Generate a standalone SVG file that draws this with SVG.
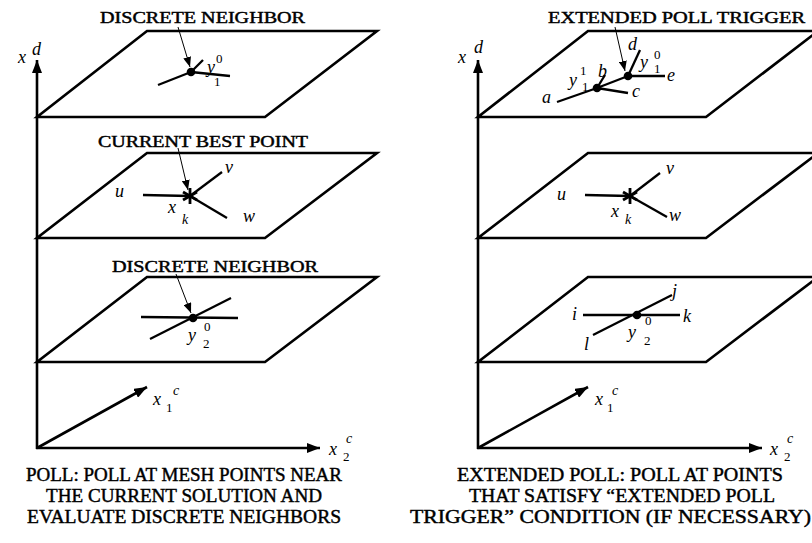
<svg xmlns="http://www.w3.org/2000/svg" width="812" height="543" viewBox="0 0 812 543">
<style>
.pl{fill:none;stroke:#000;stroke-width:2.6;stroke-linejoin:miter}
.ax{stroke:#000;stroke-width:2.6;fill:none}
.nb{stroke:#000;stroke-width:2.3;fill:none}
.pt{stroke:#000;stroke-width:1;fill:none}
.lbl{font-family:"Liberation Serif","Times New Roman",serif;font-size:16px;fill:#000;stroke:#000;stroke-width:0.45}
.cap{font-family:"Liberation Serif","Times New Roman",serif;font-size:19.5px;fill:#000;stroke:#000;stroke-width:0.45}
.m{font-family:"Liberation Serif","Times New Roman",serif;font-style:italic;font-size:18px;fill:#000}
.s{font-family:"Liberation Serif","Times New Roman",serif;font-size:13px;fill:#000}
.si{font-family:"Liberation Serif","Times New Roman",serif;font-style:italic;font-size:14px;fill:#000}
</style>
<defs>
<marker id="axh" markerWidth="13" markerHeight="10" refX="13" refY="5" orient="auto" markerUnits="userSpaceOnUse"><path d="M0,0 L13,5 L0,10 z" fill="#000"/></marker>
<marker id="ph" markerWidth="10" markerHeight="8" refX="10" refY="4" orient="auto" markerUnits="userSpaceOnUse"><path d="M0,0 L10,4 L0,8 z" fill="#000"/></marker>
</defs>
<rect width="812" height="543" fill="#fff"/>

<!-- LEFT PANEL -->
<g id="left-axes">
<line class="ax" x1="37" y1="449" x2="37" y2="60" marker-end="url(#axh)"/>
<line class="ax" x1="36" y1="448" x2="320" y2="448" marker-end="url(#axh)"/>
<line class="ax" x1="37" y1="448" x2="147" y2="387" marker-end="url(#axh)"/>
<text class="m" x="18" y="63">x</text><text class="m" x="32" y="55">d</text>
<text class="m" x="153" y="405">x</text><text class="s" x="166" y="412">1</text><text class="si" x="173" y="395">c</text>
<text class="m" x="329" y="455">x</text><text class="s" x="343" y="461">2</text><text class="si" x="346" y="443">c</text>
</g>

<g id="left-top-plane">
<polygon class="pl" points="37,117 265,117 377,31 147,31"/>
<line class="nb" x1="191" y1="72" x2="158" y2="85"/>
<line class="nb" x1="191" y1="72" x2="230" y2="76"/>
<line class="nb" x1="191" y1="72" x2="203" y2="60"/>
<circle cx="191" cy="72" r="4.3" fill="#000"/>
<text class="m" x="207" y="73">y</text><text class="s" x="214" y="86">1</text><text class="s" x="216" y="63">0</text>
<text class="lbl" x="100" y="23" textLength="205" lengthAdjust="spacingAndGlyphs">DISCRETE NEIGHBOR</text>
</g>

<g id="left-middle-plane">
<polygon class="pl" points="37,238 265,238 377,153 147,153"/>
<line class="nb" x1="143" y1="195" x2="190" y2="196"/>
<line class="nb" x1="190" y1="196" x2="222" y2="172"/>
<line class="nb" x1="190" y1="196" x2="227" y2="218"/>
<g stroke="#000" stroke-width="2.8">
<line x1="190" y1="188" x2="190" y2="204"/>
<line x1="183" y1="192" x2="197" y2="200"/>
<line x1="183" y1="200" x2="197" y2="192"/>
</g>
<text class="m" x="115" y="197">u</text>
<text class="m" x="225" y="173">v</text>
<text class="m" x="243" y="222">w</text>
<text class="m" x="168" y="213">x</text><text class="si" x="182" y="224">k</text>
<text class="lbl" x="98" y="147" textLength="210" lengthAdjust="spacingAndGlyphs">CURRENT BEST POINT</text>
</g>

<g id="left-bottom-plane">
<polygon class="pl" points="37,362 265,362 377,277 147,277"/>
<line class="nb" x1="141" y1="317" x2="238" y2="318"/>
<line class="nb" x1="150" y1="339" x2="231" y2="298"/>
<circle cx="193" cy="318" r="4.3" fill="#000"/>
<text class="m" x="188" y="341">y</text><text class="s" x="203" y="348">2</text><text class="s" x="204" y="331">0</text>
<text class="lbl" x="112" y="272" textLength="206" lengthAdjust="spacingAndGlyphs">DISCRETE NEIGHBOR</text>
</g>

<!-- RIGHT PANEL -->
<g id="right-axes">
<line class="ax" x1="478" y1="449" x2="478" y2="60" marker-end="url(#axh)"/>
<line class="ax" x1="477" y1="448" x2="762" y2="448" marker-end="url(#axh)"/>
<line class="ax" x1="478" y1="448" x2="588" y2="387" marker-end="url(#axh)"/>
<text class="m" x="458" y="63">x</text><text class="m" x="474" y="53">d</text>
<text class="m" x="595" y="405">x</text><text class="s" x="607" y="412">1</text><text class="si" x="612" y="395">c</text>
<text class="m" x="770" y="455">x</text><text class="s" x="784" y="461">2</text><text class="si" x="787" y="443">c</text>
</g>

<g id="right-top-plane">
<polygon class="pl" points="478,117 706,117 818,31 588,31"/>
<line class="nb" x1="557" y1="102" x2="597" y2="88"/>
<line class="nb" x1="597" y1="88" x2="605" y2="75"/>
<line class="nb" x1="597" y1="88" x2="628" y2="93"/>
<line class="nb" x1="597" y1="88" x2="628" y2="76"/>
<line class="nb" x1="628" y1="76" x2="640" y2="50"/>
<line class="nb" x1="628" y1="76" x2="665" y2="76"/>
<circle cx="597" cy="88" r="4.3" fill="#000"/>
<circle cx="628" cy="76" r="4.3" fill="#000"/>
<text class="m" x="542" y="103">a</text>
<text class="m" x="598" y="77">b</text>
<text class="m" x="632" y="97">c</text>
<text class="m" x="628" y="50">d</text>
<text class="m" x="667" y="81">e</text>
<text class="m" x="569" y="86">y</text><text class="s" x="580" y="75">1</text><text class="s" x="582" y="91">1</text>
<text class="m" x="640" y="68">y</text><text class="s" x="654" y="59">0</text><text class="s" x="654" y="73">1</text>
<text class="lbl" x="548" y="23" textLength="257" lengthAdjust="spacingAndGlyphs">EXTENDED POLL TRIGGER</text>
</g>

<g id="right-middle-plane">
<polygon class="pl" points="478,238 706,238 818,153 588,153"/>
<line class="nb" x1="585" y1="195" x2="630" y2="196"/>
<line class="nb" x1="630" y1="196" x2="660" y2="173"/>
<line class="nb" x1="630" y1="196" x2="667" y2="217"/>
<g stroke="#000" stroke-width="2.8">
<line x1="630" y1="188" x2="630" y2="204"/>
<line x1="623" y1="192" x2="637" y2="200"/>
<line x1="623" y1="200" x2="637" y2="192"/>
</g>
<text class="m" x="557" y="200">u</text>
<text class="m" x="666" y="174">v</text>
<text class="m" x="669" y="221">w</text>
<text class="m" x="611" y="217">x</text><text class="si" x="625" y="224">k</text>
</g>

<g id="right-bottom-plane">
<polygon class="pl" points="478,362 706,362 818,277 588,277"/>
<line class="nb" x1="583" y1="315" x2="680" y2="315"/>
<line class="nb" x1="593" y1="335" x2="672" y2="295"/>
<circle cx="637" cy="315" r="4.3" fill="#000"/>
<text class="m" x="572" y="320">i</text>
<text class="m" x="672" y="297">j</text>
<text class="m" x="683" y="322">k</text>
<text class="m" x="584" y="350">l</text>
<text class="m" x="628" y="338">y</text><text class="s" x="644" y="345">2</text><text class="s" x="645" y="325">0</text>
</g>

<g id="connectors">
<line class="pt" x1="178" y1="27" x2="190" y2="67" marker-end="url(#ph)"/>
<line class="pt" x1="178" y1="148" x2="188" y2="190" marker-end="url(#ph)"/>
<line class="pt" x1="176" y1="274" x2="191" y2="313" marker-end="url(#ph)"/>
<line class="pt" x1="615" y1="27" x2="625" y2="71" marker-end="url(#ph)"/>
</g>

<g id="captions">
<text class="cap" x="26" y="481" textLength="316" lengthAdjust="spacingAndGlyphs">POLL: POLL AT MESH POINTS NEAR</text>
<text class="cap" x="46" y="502" textLength="276" lengthAdjust="spacingAndGlyphs">THE CURRENT SOLUTION AND</text>
<text class="cap" x="27" y="523" textLength="314" lengthAdjust="spacingAndGlyphs">EVALUATE DISCRETE NEIGHBORS</text>
<text class="cap" x="457" y="481" textLength="326" lengthAdjust="spacingAndGlyphs">EXTENDED POLL: POLL AT POINTS</text>
<text class="cap" x="469" y="502" textLength="306" lengthAdjust="spacingAndGlyphs">THAT SATISFY “EXTENDED POLL</text>
<text class="cap" x="410" y="523" textLength="401" lengthAdjust="spacingAndGlyphs">TRIGGER” CONDITION (IF NECESSARY)</text>
</g>
</svg>
